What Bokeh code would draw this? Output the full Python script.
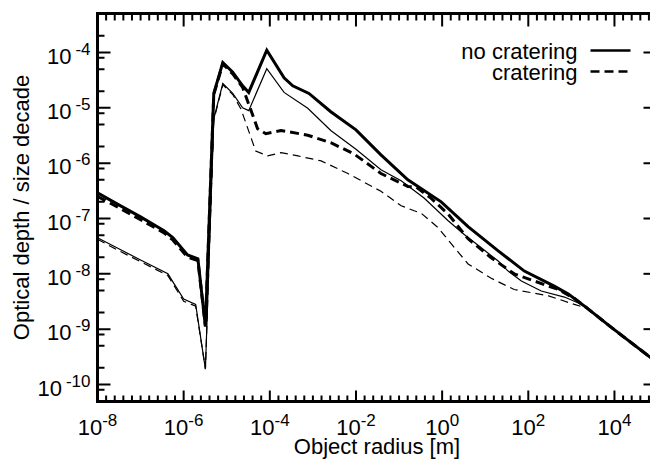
import math

from bokeh.embed import file_html
from bokeh.models import ColumnDataSource, Label, Range1d
from bokeh.plotting import figure
from bokeh.resources import INLINE

# ---------------------------------------------------------------------------
# Optical depth per size decade versus object radius [m]
# population 1 (heavy lines) and population 2 (light lines),
# each without and with cratering erosion
# ---------------------------------------------------------------------------
radius_p1_nocrater = [1.0e-8, 3.2e-8, 1.0e-7, 3.5e-7, 5.6e-7, 1.23e-6, 2.14e-6, 3.2e-6,
                      5.0e-6, 8.1e-6, 1.38e-5, 2.34e-5, 3.24e-5, 8.5e-5, 2.14e-4, 3.4e-4,
                      8.1e-4, 2.6e-3, 1.0e-2, 3.8e-2, 0.16, 0.95, 4.0, 20, 81, 400, 850,
                      2240, 7900, 1.0e5]
tau_p1_nocrater = [2.9e-7, 1.74e-7, 1.07e-7, 6.0e-8, 4.5e-8, 2.2e-8, 1.86e-8, 1.12e-9,
                   1.82e-5, 6.6e-5, 4.4e-5, 2.5e-5, 1.9e-5, 1.1e-4, 3.5e-5, 2.5e-5,
                   1.82e-5, 8.5e-6, 4.0e-6, 1.41e-6, 5.0e-7, 2.0e-7, 7.1e-8, 2.6e-8,
                   1.12e-8, 6.0e-9, 4.3e-9, 2.45e-9, 1.12e-9, 2.45e-10]

radius_p1_crater = [1.0e-8, 3.2e-8, 1.0e-7, 3.5e-7, 5.6e-7, 1.23e-6, 2.14e-6, 3.2e-6,
                    5.0e-6, 8.1e-6, 1.38e-5, 2.34e-5, 5.2e-5, 8.1e-5, 1.82e-4, 7.6e-4,
                    2.6e-3, 8.9e-3, 3.8e-2, 0.16, 0.25, 0.55, 1.38, 4.0, 13.8, 47, 295,
                    500, 1170, 2240, 7900, 1.0e5]
tau_p1_crater = [2.5e-7, 1.55e-7, 9.5e-8, 5.5e-8, 4.1e-8, 2.0e-8, 1.74e-8, 1.12e-9,
                 1.74e-5, 6.2e-5, 4.1e-5, 2.34e-5, 4.2e-6, 3.4e-6, 3.9e-6, 3.2e-6,
                 2.34e-6, 1.48e-6, 6.5e-7, 3.8e-7, 3.7e-7, 2.34e-7, 1.2e-7, 4.3e-8,
                 1.95e-8, 1.0e-8, 6.0e-9, 5.2e-9, 3.6e-9, 2.45e-9, 1.12e-9, 2.45e-10]

radius_p2_nocrater = [1.0e-8, 3.2e-8, 1.0e-7, 4.3e-7, 1.0e-6, 1.9e-6, 3.2e-6, 5.0e-6,
                      8.1e-6, 1.38e-5, 2.34e-5, 3.24e-5, 8.5e-5, 2.14e-4, 7.6e-4, 2.6e-3,
                      1.0e-2, 3.8e-2, 0.112, 0.38, 1.38, 3.2, 8.1, 20, 34, 69, 200, 690,
                      1410, 2240, 7900, 1.0e5]
tau_p2_nocrater = [4.5e-8, 2.8e-8, 1.78e-8, 1.0e-8, 3.5e-9, 2.8e-9, 1.9e-10, 6.3e-6,
                   2.75e-5, 1.82e-5, 1.0e-5, 8.9e-6, 5.1e-5, 1.9e-5, 9.8e-6, 3.9e-6,
                   1.78e-6, 7.6e-7, 4.8e-7, 2.34e-7, 9.1e-8, 5.2e-8, 2.95e-8, 1.7e-8,
                   1.12e-8, 7.4e-9, 4.9e-9, 3.8e-9, 3.0e-9, 2.45e-9, 1.12e-9, 2.45e-10]

radius_p2_crater = [1.0e-8, 3.2e-8, 1.0e-7, 4.3e-7, 1.0e-6, 1.9e-6, 3.2e-6, 5.0e-6,
                    8.1e-6, 1.38e-5, 2.14e-5, 4.7e-5, 8.9e-5, 1.82e-4, 4.5e-4, 1.55e-3,
                    6.5e-3, 3.8e-2, 0.112, 0.224, 0.32, 0.81, 1.62, 4.0, 13.8, 47, 295,
                    1170, 2240, 7900, 1.0e5]
tau_p2_crater = [4.2e-8, 2.6e-8, 1.66e-8, 9.3e-9, 3.2e-9, 2.6e-9, 1.9e-10, 6.0e-6,
                 2.6e-5, 1.74e-5, 9.5e-6, 1.66e-6, 1.35e-6, 1.55e-6, 1.35e-6, 1.1e-6,
                 6.5e-7, 3.1e-7, 1.7e-7, 1.38e-7, 1.26e-7, 6.8e-8, 3.5e-8, 1.51e-8,
                 8.3e-9, 5.2e-9, 4.0e-9, 2.8e-9, 2.4e-9, 1.12e-9, 2.45e-10]

x_tick_exponents = [-8, -6, -4, -2, 0, 2, 4]
y_tick_exponents = [-10, -9, -8, -7, -6, -5, -4]
legend_labels = ["no cratering", "cratering"]

# ---------------------------------------------------------------------------
# The Bokeh frame spans the whole canvas; the boxed plot area inside it is
# drawn by hand so that tick labels and titles can sit next to it.
# ---------------------------------------------------------------------------
W, H = 650, 461
FL, FT, FR, FB = 97, 13, 650, 401          # plot box in canvas pixels
PX_DEC_X = 43.08                           # pixels per decade
PX_DEC_Y = 55.33
XL0 = -8.0                                 # log10 radius at left edge of box
YL_TOP = -4.0 + (52 - FT) / PX_DEC_Y       # log10 depth at top edge of box
YL_BOT = YL_TOP - (FB - FT) / PX_DEC_Y
XL1 = XL0 + (FR - FL) / PX_DEC_X

FONT = "Liberation Sans"
BASE_PX = 22
SUP_PX = 17
BASELINE_SHIFT = 0.29                      # label anchor sits below the glyph baseline


def x_at(px):
    return 10 ** (XL0 + (px - FL) / PX_DEC_X)


def y_at(py):
    return 10 ** (YL_TOP - (py - FT) / PX_DEC_Y)


def px_of(k):
    return FL + (k - XL0) * PX_DEC_X


def py_of(k):
    return FT + (YL_TOP - k) * PX_DEC_Y


def text_width(s, size):
    widths = {"-": 0.333}
    return sum(widths.get(c, 0.556) for c in s) * size


p = figure(width=W, height=H, x_axis_type="log", y_axis_type="log",
           x_range=Range1d(x_at(0), x_at(W)), y_range=Range1d(y_at(H), y_at(0)),
           x_axis_location=None, y_axis_location=None,
           output_backend="svg", toolbar_location=None,
           min_border=0)
p.outline_line_color = None
p.xgrid.visible = False
p.ygrid.visible = False
p.background_fill_color = "white"
p.border_fill_color = "white"

x_major = [10.0 ** k for k in x_tick_exponents]
x_minor = [10.0 ** (j / 5) for j in range(-40, 25) if j % 10 != 0]
x_minor = [v for v in x_minor if XL0 < math.log10(v) < XL1]
y_major = [10.0 ** k for k in y_tick_exponents]
y_minor = [m * 10.0 ** k for k in range(-11, -3) for m in (2, 5, 8)
           if YL_BOT < math.log10(m * 10.0 ** k) < YL_TOP]

# box edges and tick marks (ticks point into the box), one multi-line glyph
frame_xs, frame_ys, frame_w = [], [], []


def stroke(xs, ys, w):
    frame_xs.append(xs)
    frame_ys.append(ys)
    frame_w.append(w)


for v in x_major:
    stroke([v, v], [y_at(FB), y_at(FB - 11)], 2)
    stroke([v, v], [y_at(FT), y_at(FT + 13)], 2)
for v in x_minor:
    stroke([v, v], [y_at(FB), y_at(FB - 6)], 2)
    stroke([v, v], [y_at(FT), y_at(FT + 7)], 2)
for v in y_major:
    stroke([x_at(FL), x_at(FL + 13)], [v, v], 2)
    stroke([x_at(FR - 7), x_at(FR)], [v, v], 2)
for v in y_minor:
    stroke([x_at(FL), x_at(FL + 7)], [v, v], 2)
stroke([x_at(FL), x_at(FL)], [y_at(FT - 1.5), y_at(FB + 1.5)], 3)
stroke([x_at(FL - 1.5), x_at(FR)], [y_at(FT), y_at(FT)], 3)
stroke([x_at(FL - 1.5), x_at(FR)], [y_at(FB), y_at(FB)], 3)

p.multi_line(xs="xs", ys="ys", line_width="w", line_color="black",
             source=ColumnDataSource(dict(xs=frame_xs, ys=frame_ys, w=frame_w)))

# curves: light population first, heavy on top
p.line(radius_p2_crater, tau_p2_crater, line_color="black", line_width=1.2,
       line_dash="8 5", line_join="miter")
p.line(radius_p2_nocrater, tau_p2_nocrater, line_color="black", line_width=1.2,
       line_join="miter")
p.line(radius_p1_crater, tau_p1_crater, line_color="black", line_width=3,
       line_dash="9 5", line_join="miter")
p.line(radius_p1_nocrater, tau_p1_nocrater, line_color="black", line_width=3,
       line_join="miter")


def add_text(px, py, text, size, align="left", angle=0.0):
    # py is the wanted baseline (or, for rotated text, baseline column px)
    shift = BASELINE_SHIFT * size
    if angle:
        px -= shift
    else:
        py -= shift
    p.add_layout(Label(x=x_at(px), y=y_at(py), text=text, text_align=align,
                       text_baseline="alphabetic", angle=angle, text_font=FONT,
                       text_font_size=f"{size}px", text_color="black"))


# legend (label on the left, line sample on the right)
for i, (lab, dash) in enumerate(zip(legend_labels, ["solid", "9 5"])):
    ly = 50 + 21 * i
    add_text(577, ly + 7, lab, BASE_PX, align="right")
    p.line([x_at(590), x_at(630)], [y_at(ly), y_at(ly)], line_color="black",
           line_width=2.6, line_dash=dash)

# tick labels written as 10 with a raised exponent
for k in x_tick_exponents:
    e = str(k)
    wb = text_width("10", BASE_PX)
    we = text_width(e, SUP_PX)
    start = px_of(k) - (wb + we) / 2
    add_text(start, 433, "10", BASE_PX)
    add_text(start + wb, 424, e, SUP_PX)

for k in y_tick_exponents:
    e = str(k)
    we = text_width(e, SUP_PX)
    ty = py_of(k)
    add_text(90 - we - 4, ty + 10, "10", BASE_PX, align="right")
    add_text(90 - we, ty + 1, e, SUP_PX)

# axis titles
add_text((FL + 656) / 2, 452, "Object radius [m]", BASE_PX, align="center")
add_text(27, (FT + FB) / 2, "Optical depth / size decade", BASE_PX, align="center",
         angle=math.pi / 2)

open("out.html", "w").write(file_html(p, INLINE))
